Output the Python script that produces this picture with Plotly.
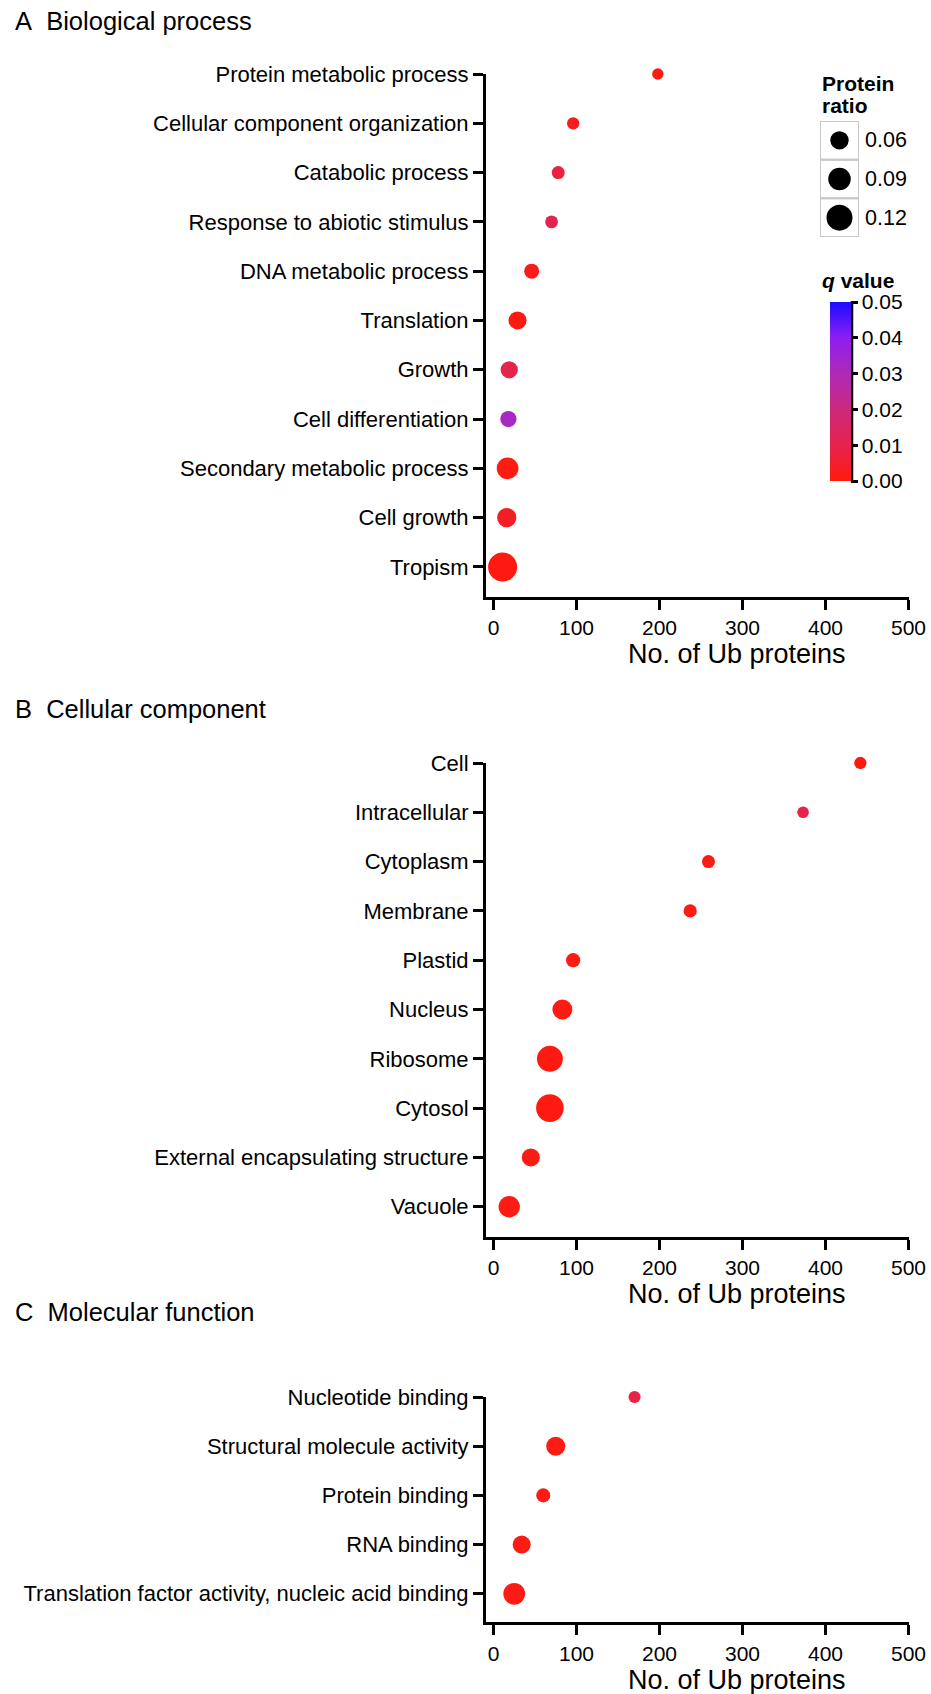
import numpy as np
import plotly.graph_objects as go

W, H = 931, 1694
FONT = "Liberation Sans, Arial, sans-serif"

# ---------------- data ----------------
A_terms = ["Protein metabolic process", "Cellular component organization", "Catabolic process",
           "Response to abiotic stimulus", "DNA metabolic process", "Translation", "Growth",
           "Cell differentiation", "Secondary metabolic process", "Cell growth", "Tropism"]
A_counts = [198, 96, 78, 70, 46, 29, 19, 18, 17, 16, 11]
A_ratio = [0.023, 0.027, 0.030, 0.029, 0.040, 0.058, 0.053, 0.047, 0.084, 0.066, 0.150]
A_q = [0.001, 0.002, 0.008, 0.011, 0.002, 0.0005, 0.010, 0.032, 0.001, 0.004, 0.0005]

B_terms = ["Cell", "Intracellular", "Cytoplasm", "Membrane", "Plastid", "Nucleus", "Ribosome",
           "Cytosol", "External encapsulating structure", "Vacuole"]
B_counts = [442, 373, 259, 237, 96, 83, 68, 68, 45, 19]
B_ratio = [0.027, 0.024, 0.030, 0.031, 0.036, 0.071, 0.120, 0.136, 0.058, 0.081]
B_q = [0.0005, 0.010, 0.001, 0.001, 0.001, 0.001, 0.0005, 0.0005, 0.001, 0.001]

C_terms = ["Nucleotide binding", "Structural molecule activity", "Protein binding", "RNA binding",
           "Translation factor activity, nucleic acid binding"]
C_counts = [170, 75, 60, 34, 25]
C_ratio = [0.026, 0.064, 0.035, 0.058, 0.084]
C_q = [0.009, 0.001, 0.001, 0.001, 0.001]

panel_titles = ["A&nbsp;&nbsp;Biological process", "B&nbsp;&nbsp;Cellular component",
                "C&nbsp;&nbsp;Molecular function"]
x_ticks = [0, 100, 200, 300, 400, 500]
legend_ratios = [0.06, 0.09, 0.12]
legend_labels = ["0.06", "0.09", "0.12"]
q_ticks = [0, 0.01, 0.02, 0.03, 0.04, 0.05]
q_ticktext = ["0.00", "0.01", "0.02", "0.03", "0.04", "0.05"]

SIZE_K = 75.0  # marker diameter = K*sqrt(ratio)


def msize(r):
    return list(SIZE_K * np.sqrt(np.array(r)))


colorscale = [[0.0, "#FF1A0D"], [0.2, "#E6234C"], [0.4, "#CC297C"],
              [0.6, "#AE2AB6"], [0.8, "#8E1EF2"], [1.0, "#1A0CFF"]]

# ---------------- layout geometry (pixels) ----------------
X_LEFT, X_RIGHT = 486, 908.5
panels = [
    dict(terms=A_terms, counts=A_counts, ratio=A_ratio, q=A_q, top=74, bottom=597, pad=0.61,
         title_y=21, xt_y=654),
    dict(terms=B_terms, counts=B_counts, ratio=B_ratio, q=B_q, top=763, bottom=1236.8, pad=0.61,
         title_y=709, xt_y=1294),
    dict(terms=C_terms, counts=C_counts, ratio=C_ratio, q=C_q, top=1397, bottom=1622.3, pad=0.58,
         title_y=1312, xt_y=1680),
]


def py(p):
    return 1 - p / H


def px(p):
    return p / W


fig = go.Figure()
annotations = []
shapes = []

for i, p in enumerate(panels, start=1):
    sfx = "" if i == 1 else str(i)
    fig.add_trace(go.Scatter(
        x=p["counts"], y=p["terms"], mode="markers",
        marker=dict(size=msize(p["ratio"]), color=p["q"], coloraxis="coloraxis",
                    line=dict(width=0), opacity=1),
        cliponaxis=False, showlegend=False, hoverinfo="skip",
        xaxis="x" + sfx, yaxis="y" + sfx,
    ))
    n = len(p["terms"])
    fig.update_layout(**{
        "xaxis" + sfx: dict(
            domain=[px(X_LEFT), px(X_RIGHT)], anchor="y" + sfx, range=[-9, 500],
            tickvals=x_ticks, ticktext=[str(t) for t in x_ticks],
            showline=True, linecolor="black", linewidth=3, ticks="outside", ticklen=10,
            tickwidth=3, tickcolor="black", showgrid=False, zeroline=False,
            tickfont=dict(family=FONT, size=21, color="black"),
        ),
        "yaxis" + sfx: dict(
            domain=[py(p["bottom"]), py(p["top"])], anchor="x" + sfx,
            type="category", categoryorder="array", categoryarray=list(reversed(p["terms"])),
            range=[-p["pad"], n - 1],
            showline=True, linecolor="black", linewidth=3, ticks="outside", ticklen=10,
            tickwidth=3, tickcolor="black", showgrid=False, zeroline=False,
            tickfont=dict(family=FONT, size=22, color="black"),
        ),
    })
    annotations.append(dict(text=panel_titles[i - 1], x=px(13), y=py(p["title_y"]),
                            xref="paper", yref="paper", xanchor="left", yanchor="middle",
                            showarrow=False, font=dict(family=FONT, size=25.5, color="black")))
    annotations.append(dict(text="No. of Ub proteins", x=px(737), y=py(p["xt_y"]),
                            xref="paper", yref="paper", xanchor="center", yanchor="middle",
                            showarrow=False, font=dict(family=FONT, size=27, color="black")))

# ---------------- size legend ----------------
fig.add_trace(go.Scatter(
    x=[0.5] * len(legend_ratios), y=[2, 1, 0], mode="markers",
    marker=dict(size=msize(legend_ratios), color="#000000", line=dict(width=0), opacity=1),
    cliponaxis=False, showlegend=False, hoverinfo="skip", xaxis="x4", yaxis="y4",
))
fig.update_layout(
    xaxis4=dict(domain=[px(820), px(859)], anchor="y4", range=[0, 1], visible=False),
    yaxis4=dict(domain=[py(237), py(121)], anchor="x4", range=[-0.5, 2.5], visible=False),
)
for k, lab in zip([2, 1, 0], legend_labels):
    shapes.append(dict(type="rect", xref="x4", yref="y4", x0=0, x1=1, y0=k - 0.5, y1=k + 0.5,
                       line=dict(color="#C8C8C8", width=2), layer="below"))
    annotations.append(dict(text=lab, x=px(863), y=k, xref="paper", yref="y4",
                            xanchor="left", yanchor="middle", showarrow=False,
                            font=dict(family=FONT, size=21.5, color="black")))
annotations.append(dict(text="<b>Protein</b>", x=px(820), y=py(83), xref="paper", yref="paper",
                        xanchor="left", yanchor="middle", showarrow=False,
                        font=dict(family=FONT, size=21, color="black")))
annotations.append(dict(text="<b>ratio</b>", x=px(820), y=py(106), xref="paper", yref="paper",
                        xanchor="left", yanchor="middle", showarrow=False,
                        font=dict(family=FONT, size=21, color="black")))
annotations.append(dict(text="<b><i>q</i> value</b>", x=px(820), y=py(281), xref="paper",
                        yref="paper", xanchor="left", yanchor="middle", showarrow=False,
                        font=dict(family=FONT, size=21, color="black")))

# colorbar right-edge line
CB_TOP, CB_BOT, CB_L, CB_T = 302, 481, 830, 21
shapes.append(dict(type="line", xref="paper", yref="paper", x0=px(CB_L + CB_T + 1),
                   x1=px(CB_L + CB_T + 1), y0=py(CB_BOT + 1), y1=py(CB_TOP - 1),
                   line=dict(color="black", width=2.5)))

fig.update_layout(
    width=W, height=H, margin=dict(l=0, r=0, t=0, b=0, autoexpand=False),
    paper_bgcolor="white", plot_bgcolor="white",
    font=dict(family=FONT, color="black"),
    coloraxis=dict(
        cmin=0, cmax=0.05, colorscale=colorscale,
        colorbar=dict(
            x=px(CB_L), xanchor="left", xpad=0, ypad=0,
            y=py((CB_TOP + CB_BOT) / 2), yanchor="middle",
            thickness=CB_T, thicknessmode="pixels", len=CB_BOT - CB_TOP, lenmode="pixels",
            outlinewidth=0, tickvals=q_ticks, ticktext=q_ticktext,
            ticks="outside", ticklen=7, tickwidth=2.5, tickcolor="black",
            tickfont=dict(family=FONT, size=21, color="black"),
        ),
    ),
    annotations=annotations, shapes=shapes,
)

fig.write_html("out.html")
